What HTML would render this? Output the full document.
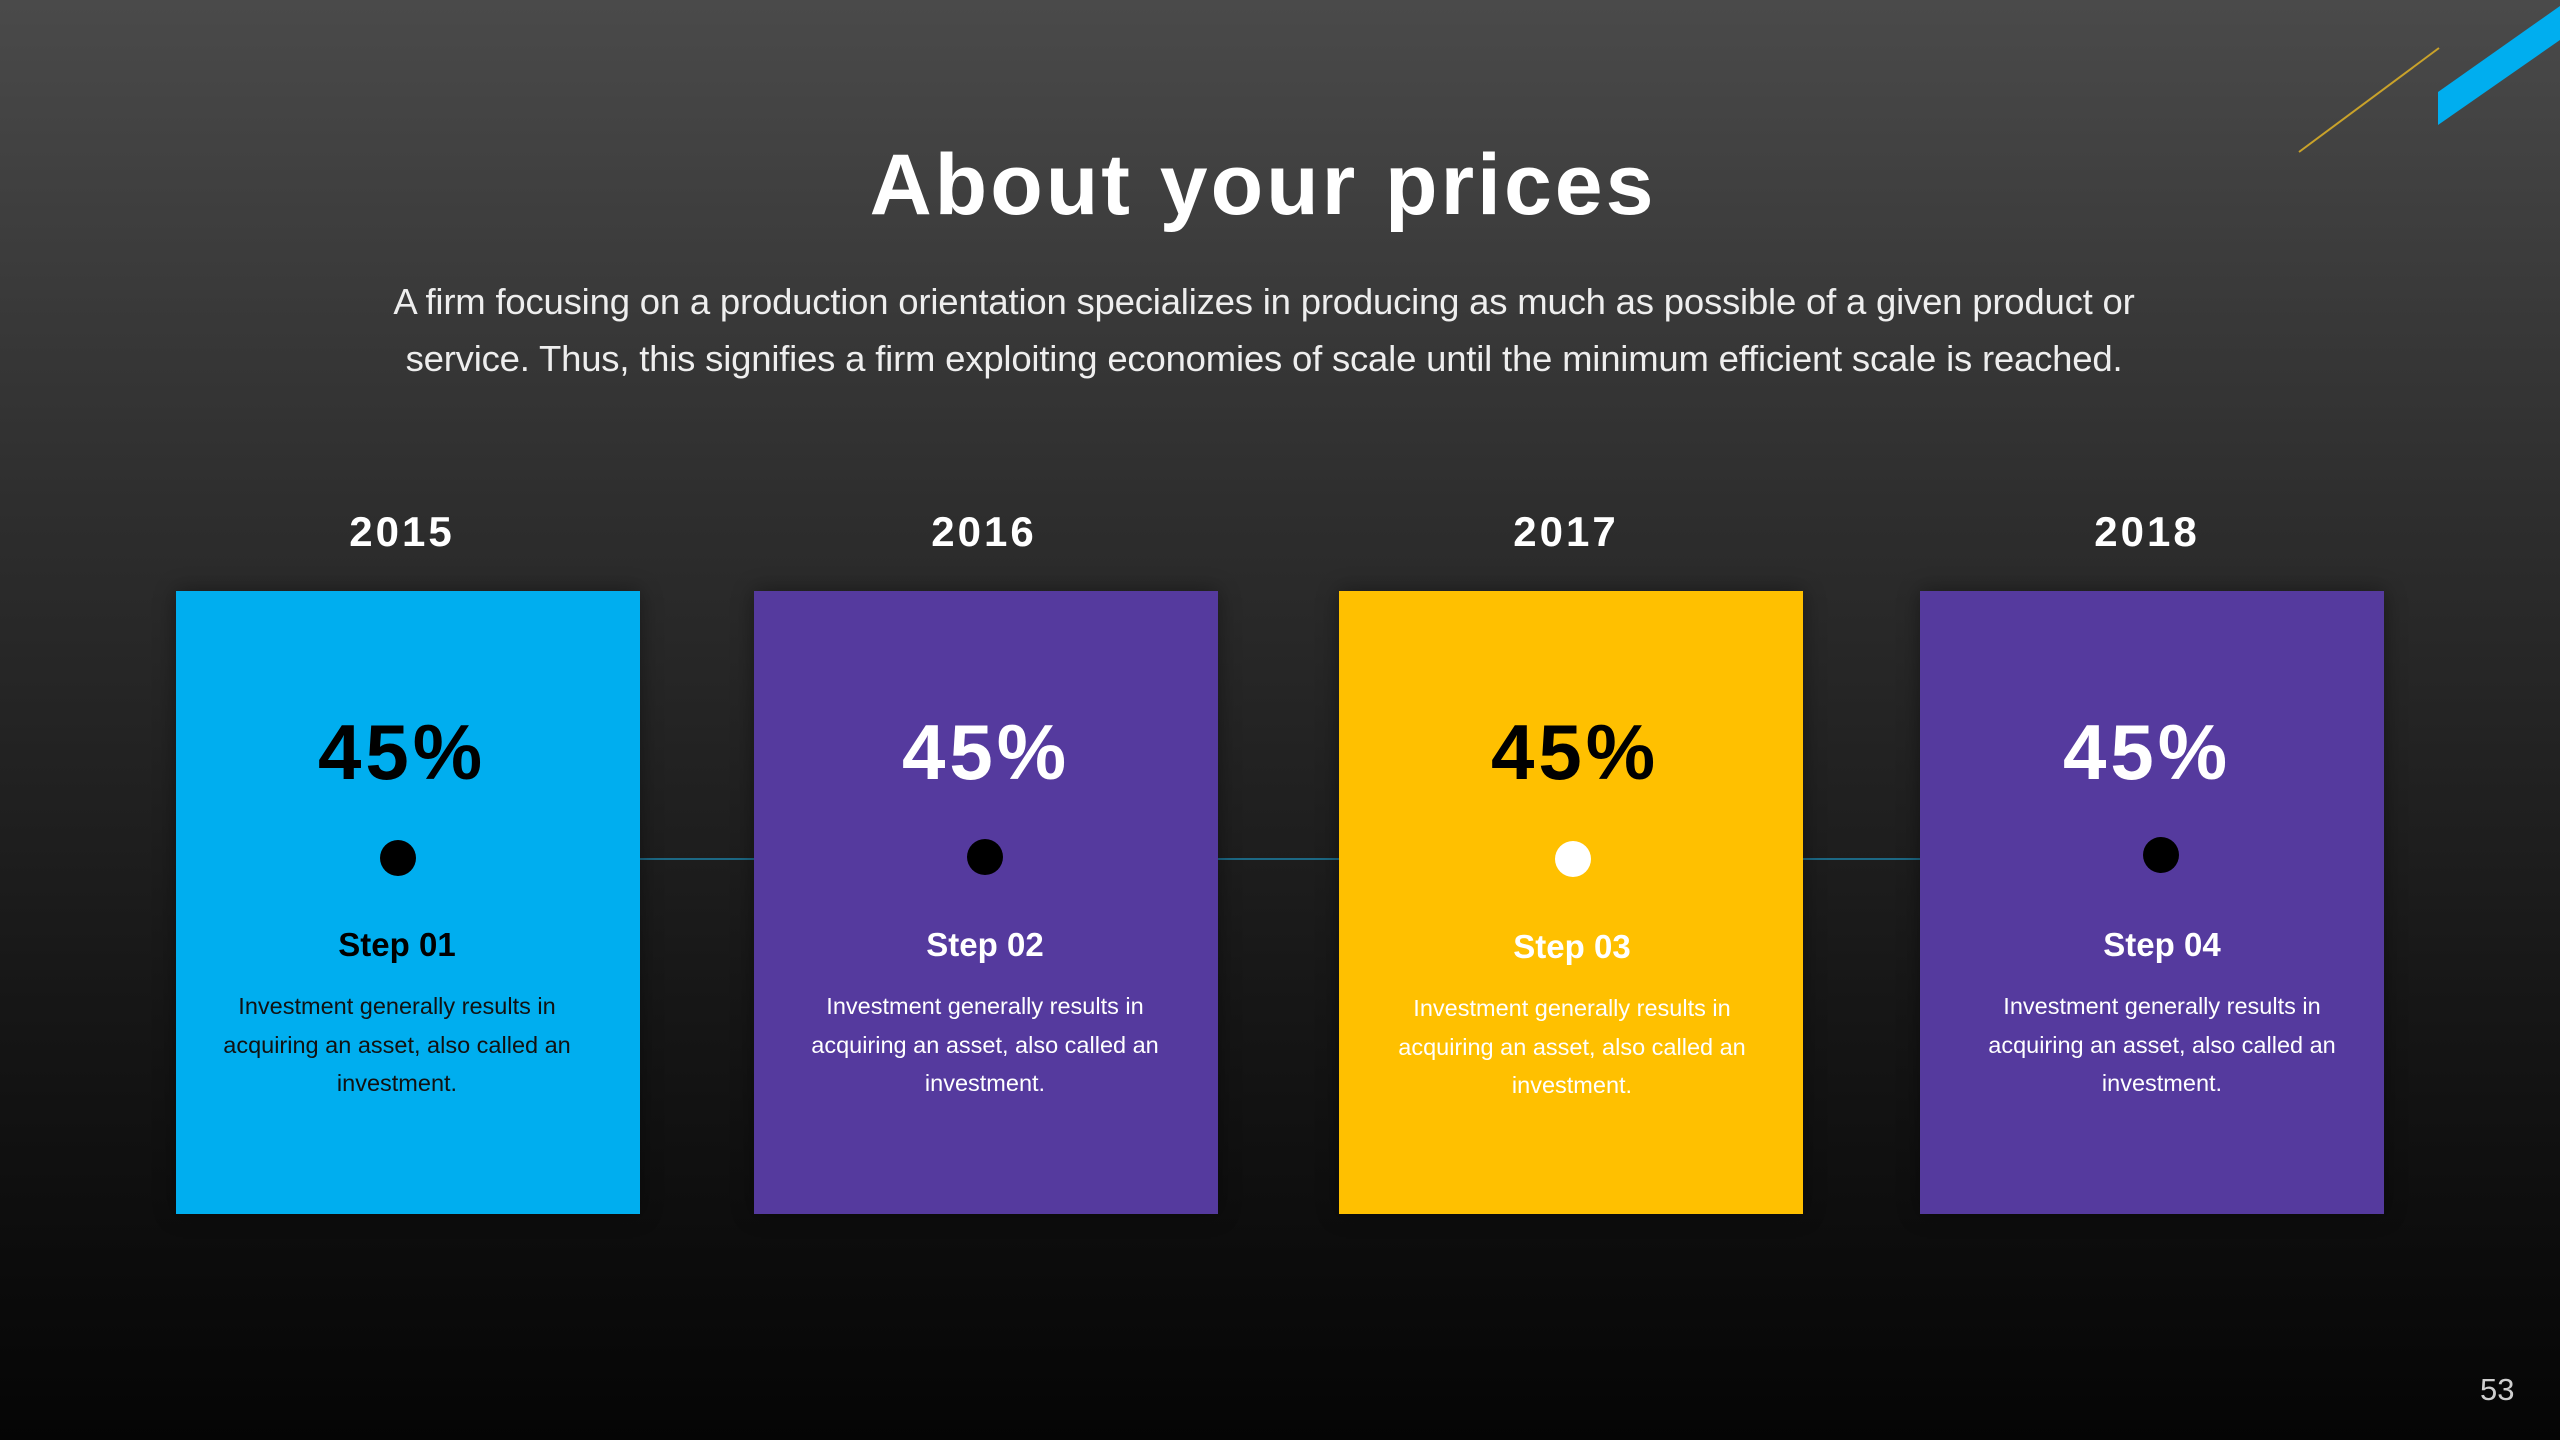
<!DOCTYPE html>
<html><head><meta charset="utf-8"><style>
*{margin:0;padding:0;box-sizing:border-box}
body{width:2560px;height:1440px;overflow:hidden;font-family:"Liberation Sans",sans-serif;background:linear-gradient(180deg,#4a4a4a 0%,#2e2e2e 35%,#161616 70%,#050505 100%);position:relative;color:#fff}
.abs{position:absolute}
h1{position:absolute;left:0;width:2526px;top:136px;text-align:center;font-size:86px;font-weight:bold;letter-spacing:3px;color:#fff}
.sub{position:absolute;left:0;width:2528px;top:273px;text-align:center;font-size:36.5px;line-height:57px;color:#eee;letter-spacing:-0.2px}
.year{position:absolute;top:508px;width:464px;text-align:center;font-size:42px;font-weight:bold;letter-spacing:3px}
.card{position:absolute;top:591px;width:464px;height:623px;text-align:center;box-shadow:0 0 20px rgba(0,0,0,.4)}
.pct{position:absolute;top:702px;width:464px;text-align:center;font-size:78px;font-weight:bold;letter-spacing:4px;line-height:100px}
.dot{position:absolute;width:36px;height:36px;border-radius:50%}
.step{position:absolute;top:926px;width:464px;text-align:center;font-size:33px;font-weight:bold}
.desc{position:absolute;top:987px;width:464px;text-align:center;font-size:23.5px;line-height:38.5px}
.line{position:absolute;top:858px;height:2px;background:#1c6884}
</style></head><body>
<svg class="abs" style="left:0;top:0" width="2560" height="160">
<line x1="2299" y1="152" x2="2439" y2="48" stroke="#c9a22a" stroke-width="2"/>
<polygon points="2438,92 2560,6 2560,40 2438,125" fill="#00aeef"/>
</svg>
<h1>About your prices</h1>
<div class="sub">A firm focusing on a production orientation specializes in producing as much as possible of a given product or<br>service. Thus, this signifies a firm exploiting economies of scale until the minimum efficient scale is reached.</div>

<div class="year" style="left:170px">2015</div>
<div class="year" style="left:752px">2016</div>
<div class="year" style="left:1334px">2017</div>
<div class="year" style="left:1915px">2018</div>

<div class="line" style="left:640px;width:114px"></div>
<div class="line" style="left:1218px;width:121px"></div>
<div class="line" style="left:1803px;width:117px"></div>

<div class="card" style="left:176px;background:#00aeef"></div>
<div class="card" style="left:754px;background:#553a9e"></div>
<div class="card" style="left:1339px;background:#ffc000"></div>
<div class="card" style="left:1920px;background:#553a9e"></div>

<div class="pct" style="left:170px;color:#000">45%</div>
<div class="pct" style="left:754px;color:#fff">45%</div>
<div class="pct" style="left:1343px;color:#000">45%</div>
<div class="pct" style="left:1915px;color:#fff">45%</div>

<div class="dot" style="left:380px;top:840px;background:#000"></div>
<div class="dot" style="left:967px;top:839px;background:#000"></div>
<div class="dot" style="left:1555px;top:841px;background:#fff"></div>
<div class="dot" style="left:2143px;top:837px;background:#000"></div>

<div class="step" style="left:165px;color:#000">Step 01</div>
<div class="step" style="left:753px;color:#fff">Step 02</div>
<div class="step" style="left:1340px;color:#fff;top:928px">Step 03</div>
<div class="step" style="left:1930px;color:#fff">Step 04</div>

<div class="desc" style="left:165px;color:#111">Investment generally results in<br>acquiring an asset, also called an<br>investment.</div>
<div class="desc" style="left:753px;color:#fff">Investment generally results in<br>acquiring an asset, also called an<br>investment.</div>
<div class="desc" style="left:1340px;color:#fff;top:989px">Investment generally results in<br>acquiring an asset, also called an<br>investment.</div>
<div class="desc" style="left:1930px;color:#fff">Investment generally results in<br>acquiring an asset, also called an<br>investment.</div>

<div class="abs" style="left:2480px;top:1372px;font-size:31px;color:#cfcfcf">53</div>
</body></html>
